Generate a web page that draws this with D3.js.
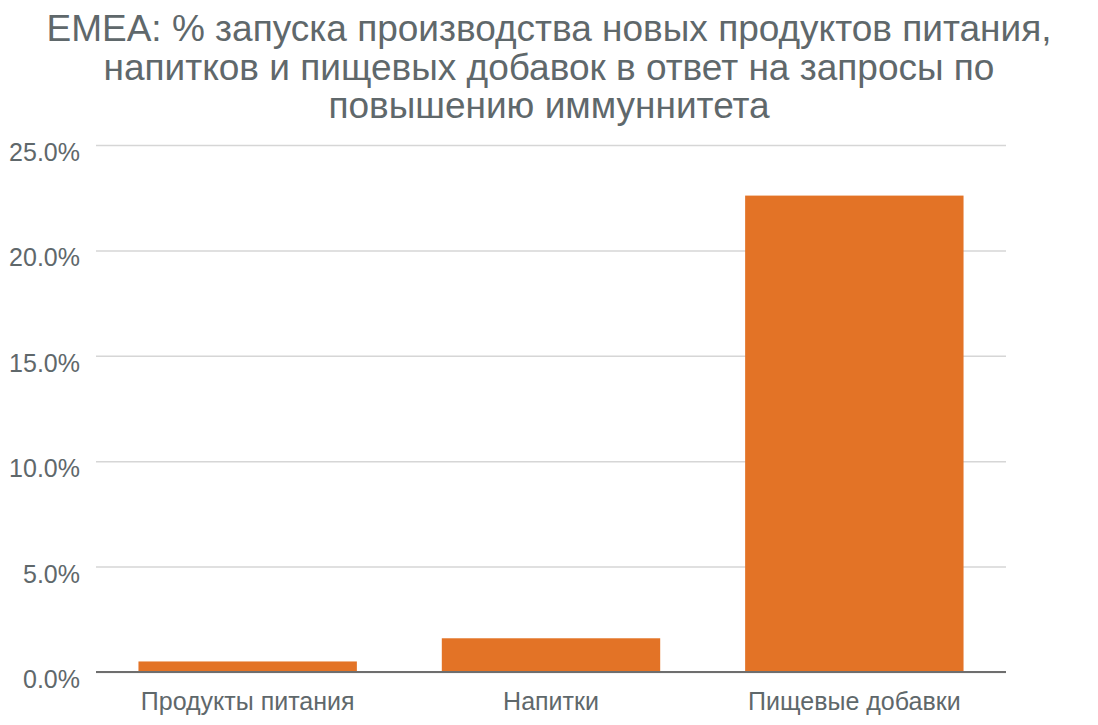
<!DOCTYPE html>
<html><head><meta charset="utf-8">
<script src="https://cdn.jsdelivr.net/npm/d3@7"></script>
<style>body{margin:0;background:#fff;} text{font-family:"Liberation Sans",Arial,sans-serif;}</style>
</head><body>
<svg id="c" width="1098" height="725"></svg>
<script>
const titleLines = ["EMEA: % запуска производства новых продуктов питания,", "напитков и пищевых добавок в ответ на запросы по", "повышению иммуннитета"];
const categories = ["Продукты питания", "Напитки", "Пищевые добавки"];
const values = [0.5, 1.6, 22.6];
const yTicks = [0, 5, 10, 15, 20, 25];

const svg = d3.select("#c");
const m = {left: 96, right: 92, top: 145, bottom: 53};
const W = 1098, H = 725;
const x = d3.scaleBand().domain(categories).range([m.left, W - m.right]).paddingInner(0.28).paddingOuter(0.14);
const y = d3.scaleLinear().domain([0, 25]).range([H - m.bottom, m.top]);

svg.append("g").selectAll("text").data(titleLines).join("text")
  .attr("x", 549).attr("y", (d, i) => 41 + i * 38.5)
  .attr("text-anchor", "middle").attr("font-size", 37).attr("fill", "#5f686b").text(d => d);

const ya = svg.append("g").attr("transform", `translate(${m.left},0)`)
  .call(d3.axisLeft(y).tickValues(yTicks).tickSize(-(W - m.left - m.right)).tickPadding(16).tickFormat(d => d.toFixed(1) + "%"));
ya.select(".domain").remove();
ya.selectAll(".tick line").attr("stroke", "#d6d6d6").attr("stroke-width", 1.5);
ya.selectAll(".tick text").attr("font-size", 25).attr("fill", "#5f686b").attr("dy", "0.62em")
  .attr("font-family", '"Liberation Sans",Arial,sans-serif');

svg.append("g").selectAll("rect").data(values).join("rect")
  .attr("x", (d, i) => x(categories[i])).attr("width", x.bandwidth())
  .attr("y", d => y(d)).attr("height", d => y(0) - y(d)).attr("fill", "#e37326");

svg.append("line").attr("x1", m.left).attr("x2", W - m.right).attr("y1", y(0)).attr("y2", y(0))
  .attr("stroke", "#6e6e6e").attr("stroke-width", 2);

const xa = svg.append("g").attr("transform", `translate(0,${y(0)})`)
  .call(d3.axisBottom(x).tickSize(0).tickPadding(20));
xa.select(".domain").remove();
xa.selectAll(".tick text").attr("font-size", 25).attr("fill", "#5f686b")
  .attr("font-family", '"Liberation Sans",Arial,sans-serif');
</script>
</body></html>
